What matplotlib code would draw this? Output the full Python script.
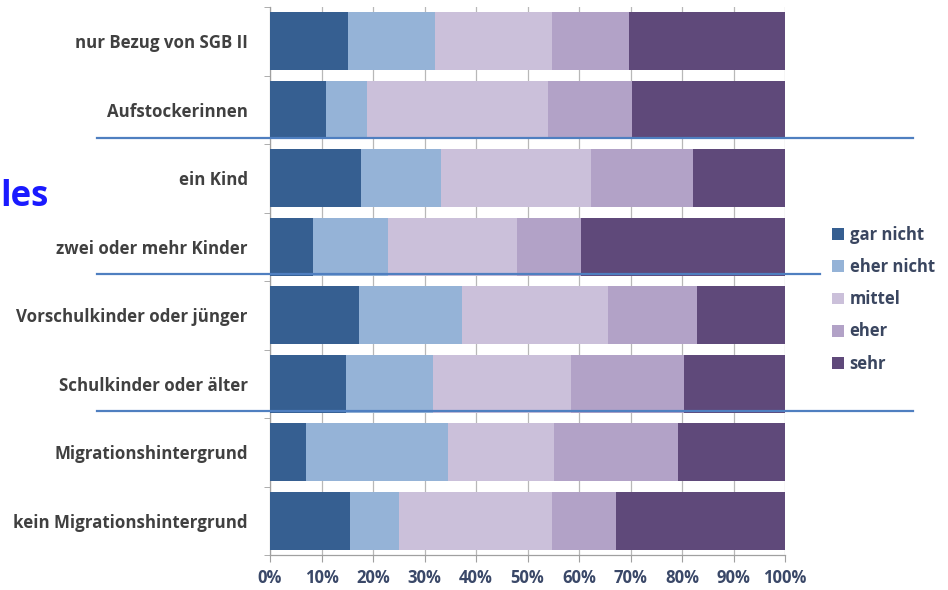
import matplotlib.pyplot as plt
import numpy as np
from matplotlib.lines import Line2D

plt.rcParams['font.family'] = ['Open Sans', 'DejaVu Sans']
plt.rcParams['font.weight'] = 'bold'

# Kategorien von oben nach unten
gruppen = [
    'nur Bezug von SGB II',
    'Aufstockerinnen',
    'ein Kind',
    'zwei oder mehr Kinder',
    'Vorschulkinder oder jünger',
    'Schulkinder oder älter',
    'Migrationshintergrund',
    'kein Migrationshintergrund',
]

# Anteile in Prozent je Antwortstufe
gar_nicht = [15.1, 10.9, 17.7, 8.3, 17.2, 14.7, 6.9, 15.6]
eher_nicht = [17.0, 8.0, 15.6, 14.6, 20.0, 17.0, 27.6, 9.5]
mittel = [22.6, 35.1, 29.0, 25.0, 28.5, 26.8, 20.7, 29.6]
eher = [15.1, 16.3, 19.9, 12.4, 17.2, 21.9, 24.0, 12.4]
sehr = [30.2, 29.7, 17.8, 39.7, 17.1, 19.6, 20.8, 32.9]

stufen = ['gar nicht', 'eher nicht', 'mittel', 'eher', 'sehr']
farben = ['#365f91', '#95b3d7', '#cbc0da', '#b2a2c7', '#5f497a']

fig = plt.figure(figsize=(9.48, 5.90), dpi=100)
ax = fig.add_axes([270 / 948, 1 - 555 / 590, 515 / 948, 548 / 590])

y = np.arange(len(gruppen))
links = np.zeros(len(gruppen))
for werte, name, farbe in zip([gar_nicht, eher_nicht, mittel, eher, sehr], stufen, farben):
    werte = np.array(werte)
    ax.barh(y, werte, left=links, height=0.84, color=farbe, label=name, zorder=3)
    links += werte

ax.set_xlim(0, 100)
ax.set_ylim(len(gruppen) - 0.5, -0.5)
ax.set_xticks(np.arange(0, 101, 10))
ax.set_xticklabels([f'{v}%' for v in range(0, 101, 10)], fontsize=12,
                   fontweight='bold', color='#3a4868')
ax.set_yticks(y)
ax.set_yticklabels(gruppen, fontsize=12.2, fontweight='bold', color='#404040')
ax.set_yticks(np.arange(-0.5, len(gruppen)), minor=True)
ax.tick_params(axis='y', which='major', length=0, pad=16)
ax.tick_params(axis='y', which='minor', length=4, color='#a0a0a0', direction='out')
ax.tick_params(axis='x', length=5, color='#a0a0a0', direction='out', pad=5)
ax.grid(axis='x', color='#b8b8b8', linewidth=0.9, zorder=0)

for s in ['top', 'right']:
    ax.spines[s].set_visible(False)
for s in ['left', 'bottom']:
    ax.spines[s].set_color('#a0a0a0')
    ax.spines[s].set_linewidth(0.9)

leg = fig.legend(loc='upper left', bbox_to_anchor=(817 / 948, 1 - 211 / 590),
                 frameon=False, fontsize=12, handlelength=0.7, handleheight=0.7,
                 handletextpad=0.35, labelspacing=0.85)
for txt in leg.get_texts():
    txt.set_color('#3a4660')
    txt.set_fontweight('bold')

# Trennlinien zwischen den Gruppenblöcken
for yy, x1 in [(138, 913), (274, 820), (411, 913)]:
    fig.add_artist(Line2D([97 / 948, x1 / 948], [1 - yy / 590, 1 - yy / 590],
                          color='#4f7fc0', linewidth=1.6))

fig.text(0.0, 1 - 206 / 590, 'les', fontsize=25, fontweight='bold',
         color='#1a1aff', ha='left', va='baseline')

fig.savefig('out.png', dpi=100)
